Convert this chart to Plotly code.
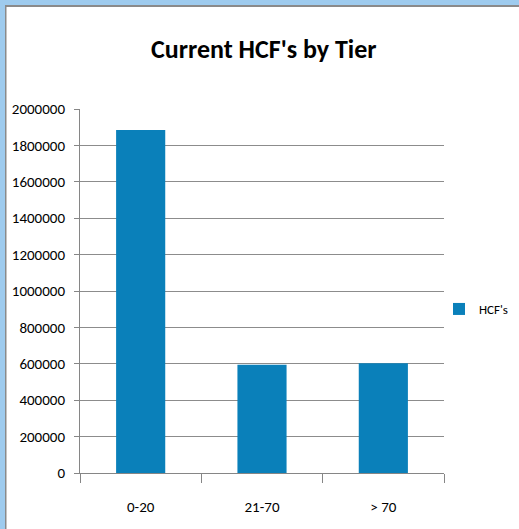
import plotly.graph_objects as go

categories = ["0-20", "21-70", "> 70"]
hcf_values = [1885000, 595000, 603000]
series_name = "HCF's"
y_tick_values = [0, 200000, 400000, 600000, 800000, 1000000, 1200000, 1400000, 1600000, 1800000, 2000000]
y_tick_labels = [str(v) for v in y_tick_values]

W, H = 519, 529
L, R, T, B = 80, 75, 109, 56
pw = W - L - R
ph = H - T - B

def px_x(x):
    return (x - L) / pw

def px_y(y):
    return (H - B - y) / ph

font = "Carlito, 'DejaVu Sans Condensed', 'Liberation Sans Narrow', 'Arial Narrow', sans-serif"

fig = go.Figure()
fig.add_trace(go.Bar(
    x=categories, y=hcf_values, name=series_name,
    marker=dict(color="#0A80BA", line=dict(width=0)),
    showlegend=True,
))

blue = "#9ECBEE"
gray = "#8A8A8A"
shapes = [
    dict(type="rect", xref="paper", yref="paper", x0=px_x(0), x1=px_x(5), y0=px_y(H), y1=px_y(0),
         fillcolor=blue, line=dict(width=0), layer="above"),
    dict(type="rect", xref="paper", yref="paper", x0=px_x(0), x1=px_x(W), y0=px_y(5), y1=px_y(0),
         fillcolor=blue, line=dict(width=0), layer="above"),
    dict(type="rect", xref="paper", yref="paper", x0=px_x(5), x1=px_x(W), y0=px_y(7), y1=px_y(5),
         fillcolor=gray, line=dict(width=0), layer="above"),
    dict(type="rect", xref="paper", yref="paper", x0=px_x(5), x1=px_x(6.5), y0=px_y(H), y1=px_y(5),
         fillcolor=gray, line=dict(width=0), layer="above"),
]

fig.update_layout(
    width=W, height=H,
    margin=dict(l=L, r=R, t=T, b=B, autoexpand=False),
    paper_bgcolor="white", plot_bgcolor="white",
    bargap=0.595,
    title=dict(text="<b>Current HCF's by Tier</b>", x=px_x(265), xanchor="center",
               y=1 - 49 / H, yanchor="middle",
               font=dict(family=font, size=26, color="#000000")),
    legend=dict(x=px_x(439), y=px_y(309), xanchor="left", yanchor="middle",
                font=dict(family=font, size=13, color="#000000"),
                itemwidth=30, bgcolor="rgba(0,0,0,0)"),
    shapes=shapes,
    font=dict(family=font, size=15, color="#000000"),
)
fig.update_xaxes(
    showline=True, linecolor="#868686", linewidth=1,
    ticks="outside", tickson="boundaries", ticklen=9, tickcolor="#868686",
    showgrid=False, tickfont=dict(family=font, size=15, color="#000000"),
    ticklabelstandoff=20,
)
fig.update_yaxes(
    range=[0, 2000000], tickvals=y_tick_values, ticktext=y_tick_labels,
    showline=True, linecolor="#868686", linewidth=1,
    ticks="outside", ticklen=5, tickcolor="#868686",
    showgrid=True, gridcolor="#8C8C8C", gridwidth=1, zeroline=False,
    tickfont=dict(family=font, size=15, color="#000000"),
    ticklabelstandoff=6,
)

fig.write_html("out.html", config={"displayModeBar": False},
               post_script="document.body.style.margin='0px';")
